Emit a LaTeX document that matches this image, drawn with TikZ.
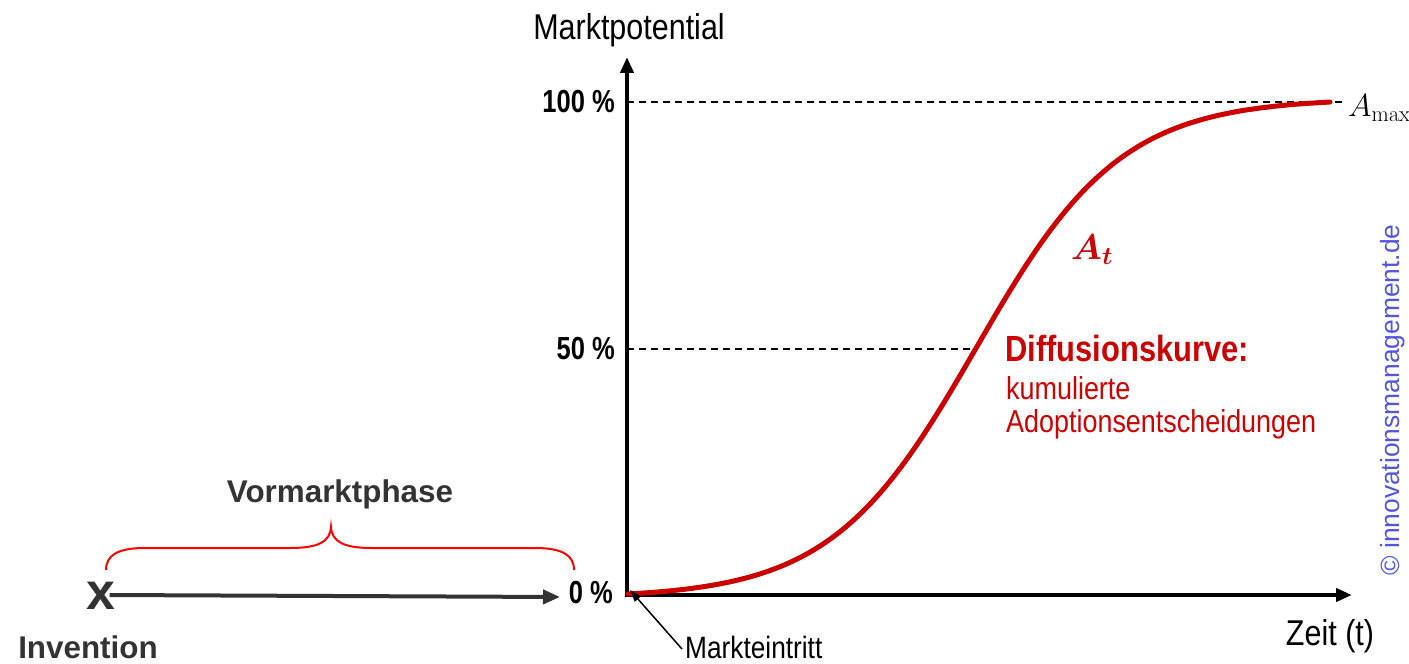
\RequirePackage{fix-cm}
\documentclass[tikz,border=0pt]{standalone}
\usepackage{amsmath}
\usepackage[no-math]{fontspec}
\usetikzlibrary{arrows.meta}
\setmainfont{Liberation Sans}
\newfontfamily\gf[FakeStretch=0.85]{Liberation Sans}
\newfontfamily\gfb[FakeStretch=0.8]{Liberation Sans Bold}
\definecolor{curvered}{RGB}{204,0,0}
\definecolor{bracered}{RGB}{255,0,0}
\definecolor{darkgray}{RGB}{51,51,51}
\definecolor{copyblue}{RGB}{85,85,225}
\tikzset{
  axisline/.style={line width=4bp, -{Triangle[length=16bp,width=13bp]}},
  guide/.style={line width=1.5bp, dash pattern=on 7bp off 5bp},
  lbl/.style={inner sep=0, font=\gf\fontsize{36}{40}\selectfont},
  pct/.style={inner sep=0, anchor=east, font=\gfb\fontsize{32}{34}\selectfont},
  redtxt/.style={inner sep=0, anchor=west, text=curvered},
  lefttxt/.style={inner sep=0, text=darkgray, font=\bfseries\fontsize{31.5}{34}\selectfont},
  curve/.style={line width=5bp, curvered, line cap=round},
  brace/.style={line width=2bp, bracered},
}
\begin{document}
\begin{tikzpicture}[x=1bp,y=-1bp]
\useasboundingbox (0,0) rectangle (1409,664);
% axes
\coordinate (O) at (627,595);
\coordinate (ytip) at (627,57);
\coordinate (xtip) at (1352,595);
\coordinate (h100) at (627,102);
\coordinate (h50) at (627,349);
\coordinate (e100) at (1345,102);
\coordinate (e50) at (975,349);
\draw[guide] (h100) -- (e100);
\draw[guide] (h50) -- (e50);
\draw[axisline] ([yshift=2bp]O) -- (ytip);
\draw[axisline] ([xshift=-2bp]O) -- (xtip);
% curve (logistic)
\draw[curve] plot[domain=628:1330, samples=140]
  (\x, {594-492*((1/(1+exp(-0.0138*(\x-976))))-0.00815)/0.98435});
% axis labels
\node[lbl] (mp) at (629,30) {Marktpotential};
\node[lbl] (zeit) at (1330,636) {Zeit (t)};
\node[pct] (p100) at (615,102) {100 \%};
\node[pct] (p50) at (615,349) {50 \%};
\node[pct] (p0) at (613,593) {0 \%};
\node[inner sep=0, anchor=west, font=\fontsize{32}{34}\selectfont] (amax) at (1348,108) {$A_{\max}$};
\node[inner sep=0, text=curvered, font=\fontsize{36}{38}\selectfont] (at) at (1092,250) {$\boldsymbol{A}_{\boldsymbol{t}}$};
% Markteintritt
\node[lbl, anchor=west, font=\gf\fontsize{31}{33}\selectfont] (me) at (685,647) {Markteintritt};
\draw[line width=1.5bp, -{Triangle[length=12bp,width=8bp]}] (me.west) ++(-3bp,-2bp) -- ([shift={(3bp,5bp)}]O);
% Diffusion text
\node[redtxt, font=\gf\bfseries\fontsize{36.5}{40}\selectfont] (dk) at (1005,348) {Diffusionskurve:};
\node[redtxt, font=\gf\fontsize{31.8}{34}\selectfont] (ku) at (1006,388) {kumulierte};
\node[redtxt, font=\gf\fontsize{31.8}{34}\selectfont] (ad) at (1006,424) {Adoptionsentscheidungen};
% copyright
\node[inner sep=0, rotate=90, text=copyblue, font=\fontsize{26.5}{28}\selectfont] (copy) at (1393,400) {\char"00A9{} innovationsmanagement.de};
% left part
\node[inner sep=0, text=darkgray, font=\bfseries\fontsize{52}{52}\selectfont] (inv) at (101,596) {x};
\node[lefttxt] (invlbl) at (88,647) {Invention};
\node[lefttxt] (vm) at (340,494) {Vormarktphase};
\coordinate (preend) at (560,597);
\draw[line width=4bp, darkgray, -{Triangle[length=17bp,width=14bp]}] (inv.east) ++(-6bp,1bp) -- (preend);
% brace
\coordinate (bl) at (106,570);
\coordinate (br) at (574,570);
\coordinate (bt) at (331,527);
\draw[brace] (bl) .. controls (106,555) and (118,548) .. (145,548)
  -- (290,548) .. controls (318,548) and (330,542) .. (bt)
  .. controls (332,542) and (344,548) .. (372,548)
  -- (535,548) .. controls (562,548) and (574,555) .. (br);
\end{tikzpicture}
\end{document}
